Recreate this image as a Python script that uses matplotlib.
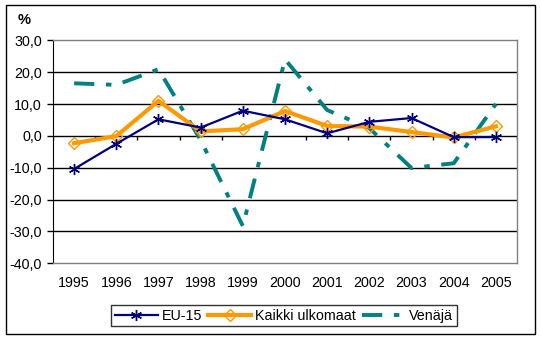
import matplotlib.pyplot as plt
import numpy as np
from matplotlib.patches import Rectangle

years = ["1995", "1996", "1997", "1998", "1999", "2000",
         "2001", "2002", "2003", "2004", "2005"]
eu15 = [-10.4, -2.5, 5.2, 2.6, 7.9, 5.2, 0.8, 4.4, 5.6, -0.4, -0.4]
kaikki = [-2.3, -0.1, 11.0, 1.4, 2.1, 7.8, 3.1, 2.9, 1.2, -0.5, 3.0]
venaja = [16.5, 16.0, 20.9, -1.3, -28.3, 24.0, 8.1, 2.4, -10.1, -8.6, 10.0]
yticks = [30, 20, 10, 0, -10, -20, -30, -40]

plt.rcParams['font.family'] = ['Liberation Sans', 'DejaVu Sans']

fig = plt.figure(figsize=(5.41, 3.40), dpi=100)
ax = fig.add_axes([0.098, 0.2256, 0.8576, 0.6559])

x = np.arange(len(years))

# gridlines
for v in yticks:
    if v not in (30, -40, 0):
        ax.axhline(v, color="black", lw=1, zorder=1)
ax.axhline(0, color="black", lw=1, zorder=1)
# tick marks on the zero line, between categories
ax.vlines(np.arange(-0.5, len(years), 1.0), -1.3, 0, color="black", lw=1, zorder=1)

ax.plot(x, eu15, color="#000080", lw=1.6, marker=(6, 2, 0), ms=8, mew=1,
        label="EU-15", zorder=4)
ax.plot(x, kaikki, color="#FF9900", lw=3, marker="D", ms=6.5, mfc="none",
        mec="#FF9900", mew=1, label="Kaikki ulkomaat", zorder=3)
ax.plot(x, venaja, color="#008080", lw=2.8, dashes=(5.2, 3, 1.4, 3),
        label="Venäjä", zorder=2)

ax.set_xlim(-0.5, len(years) - 0.5)
ax.set_ylim(-40, 30)
ax.set_yticks(yticks)
ax.set_yticklabels([("%.1f" % v).replace(".", ",") for v in yticks], fontsize=10.3)
ax.set_xticks(x)
ax.set_xticklabels(years, fontsize=10.3)
ax.tick_params(axis="x", length=0, pad=9)
ax.tick_params(axis="y", length=4, direction="out", width=1, pad=4)

for s in ["top", "right", "bottom"]:
    ax.spines[s].set_color("#808080")
    ax.spines[s].set_linewidth(1)
ax.spines["left"].set_color("black")

fig.text(0.032, 0.93, "%", fontsize=10.5, fontweight="bold")

leg = fig.legend(loc="center", bbox_to_anchor=(0.525, 0.071), ncol=3,
                 fontsize=10.3, frameon=True, fancybox=False, edgecolor="black",
                 handlelength=3.0, handletextpad=0.3, columnspacing=0.4,
                 borderpad=0.25)
leg.get_frame().set_linewidth(1)

fig.patches.append(Rectangle((6 / 541, 1 - 334 / 340), 529 / 541, 329 / 340,
                             transform=fig.transFigure, fill=False,
                             edgecolor="black", lw=1))

fig.savefig("out.png", dpi=100)
